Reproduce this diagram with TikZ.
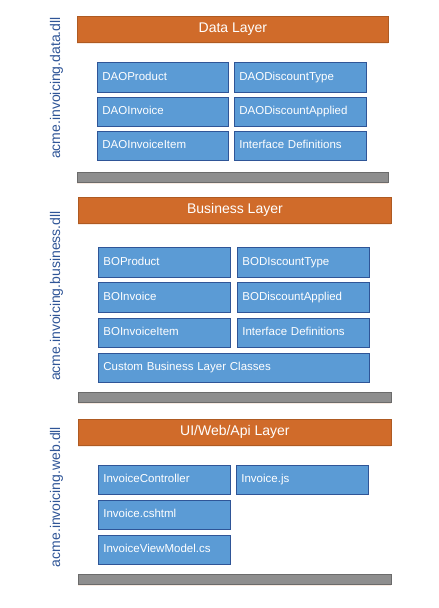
\documentclass[tikz,border=0pt]{standalone}
\usepackage{fontspec}
\setmainfont{Liberation Sans}
\usetikzlibrary{shadows}
\definecolor{boxblue}{HTML}{5B9BD5}
\definecolor{boxedge}{HTML}{2F5597}
\definecolor{layerorange}{HTML}{D06B2A}
\definecolor{layeredge}{HTML}{AE5A22}
\definecolor{bargray}{HTML}{8E8E8E}
\definecolor{baredge}{HTML}{6B6B6B}
\definecolor{dlltext}{HTML}{2F5597}
\begin{document}
\begin{tikzpicture}[x=1pt,y=-1pt,
  layerbar/.style={draw=layeredge, line width=0.8pt, fill=layerorange, text=white,
    font=\fontsize{14}{16}\selectfont, anchor=north west, minimum height=26pt,
    text height=10pt, text depth=3pt,
    inner sep=0pt, drop shadow={shadow xshift=0pt, shadow yshift=-2pt, fill=layerorange!40, opacity=0.35}},
  basebar/.style={draw=baredge, line width=0.8pt, fill=bargray, anchor=north west,
    minimum height=10pt, inner sep=0pt,
    drop shadow={shadow xshift=0pt, shadow yshift=-2pt, fill=layerorange!40, opacity=0.35}},
  classbox/.style={draw=boxedge, line width=0.8pt, fill=boxblue, text=white,
    font=\fontsize{11.5}{13}\selectfont, anchor=north west, minimum height=29.5pt,
    text height=8.5pt, text depth=2.5pt,
    inner xsep=5pt, inner ysep=0pt, align=left,
    drop shadow={shadow xshift=1pt, shadow yshift=-1pt, fill=black, opacity=0.15}},
  dll/.style={text=dlltext, font=\fontsize{14}{16}\selectfont, rotate=90, inner sep=0pt}]
\useasboundingbox (0,0) rectangle (439,608);
% ---------- Data layer ----------
\node[dll] (dlldata) at (56.5,88) {acme.invoicing.data.dll};
\node[layerbar, minimum width=311pt] (datalayer) at (77,16) {Data Layer};
\node[classbox, text width=121pt] (daoproduct) at (97,62) {DAOProduct};
\node[classbox, text width=122pt] (daodisctype) at (234,62) {DAODiscountType};
\node[classbox, text width=121pt] (daoinvoice) at (97,96.5) {DAOInvoice};
\node[classbox, text width=122pt] (daodiscapplied) at (234,96.5) {DAODiscountApplied};
\node[classbox, text width=121pt] (daoinvitem) at (97,130.5) {DAOInvoiceItem};
\node[classbox, text width=122pt] (daointerface) at (234,130.5) {Interface Definitions};
\node[basebar, minimum width=311pt] (database) at (77,172) {};
% ---------- Business layer ----------
\node[dll] (dllbusiness) at (56.5,296) {acme.invoicing.business.dll};
\node[layerbar, minimum width=313pt] (businesslayer) at (78,197) {Business Layer};
\node[classbox, text width=122pt] (boproduct) at (98,247) {BOProduct};
\node[classbox, text width=122pt] (bodisctype) at (237,247) {BODIscountType};
\node[classbox, text width=122pt] (boinvoice) at (98,282) {BOInvoice};
\node[classbox, text width=122pt] (bodiscapplied) at (237,282) {BODiscountApplied};
\node[classbox, text width=122pt] (boinvitem) at (98,317.5) {BOInvoiceItem};
\node[classbox, text width=122pt] (bointerface) at (237,317.5) {Interface Definitions};
\node[classbox, text width=261pt] (bocustom) at (98,352.5) {Custom Business Layer Classes};
\node[basebar, minimum width=313pt] (businessbase) at (78,392) {};
% ---------- UI layer ----------
\node[dll] (dllweb) at (56.5,497) {acme.invoicing.web.dll};
\node[layerbar, minimum width=313pt] (uilayer) at (78,419) {UI/Web/Api Layer};
\node[classbox, text width=122pt] (invcontroller) at (98,464.5) {InvoiceController};
\node[classbox, text width=122pt] (invjs) at (236,464.5) {Invoice.js};
\node[classbox, text width=122pt] (invcshtml) at (98,499.5) {Invoice.cshtml};
\node[classbox, text width=122pt] (invviewmodel) at (98,534.5) {InvoiceViewModel.cs};
\node[basebar, minimum width=313pt] (uibase) at (78,574) {};
\end{tikzpicture}
\end{document}
